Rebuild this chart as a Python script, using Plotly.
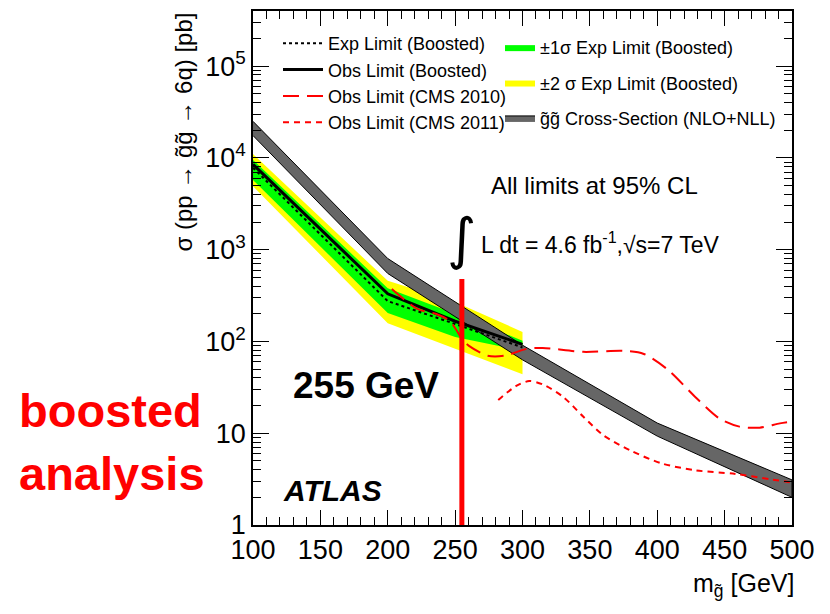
import plotly.graph_objects as go

# ---------------- data ----------------
mass_xs = [100, 200, 300, 400, 500]
xs_high = [2.5e4, 800, 91, 12.9, 3.1]
xs_low = [1.75e4, 550, 63, 9.3, 2.0]

mass_lim = [100, 200, 250, 300]
exp_lim = [7.8e3, 275, 155, 86]
obs_lim = [8.5e3, 330, 166, 93]
s1_high = [9.5e3, 380, 200, 102]
s1_low = [5.75e3, 204, 112, 79]
s2_high = [1.1e4, 457, 269, 127]
s2_low = [4.9e3, 158, 83, 44]

cms2010_m = [203, 222, 236, 246, 256, 260, 274, 287, 303, 315, 345, 375, 390, 408, 428, 446, 461, 476, 491, 500]
cms2010_xs = [372, 226, 199, 167, 102, 90, 70, 70, 83, 85, 77, 79, 73, 49, 25, 14.5, 11.8, 11.5, 12.8, 13.4]

cms2011_m = [282, 295, 305, 315, 330, 345, 360, 380, 403, 428, 458, 484, 500]
cms2011_xs = [23, 32.5, 37, 34, 25, 15.2, 9.5, 6.5, 4.7, 3.95, 3.6, 3.15, 2.9]

limit_mass = [255, 255]
limit_xs = [1, 478]

x_ticks = [100, 150, 200, 250, 300, 350, 400, 450, 500]
y_ticks = [1, 10, 100, 1e3, 1e4, 1e5]
y_ticktext = ["1", "10", "10<sup>2</sup>", "10<sup>3</sup>", "10<sup>4</sup>", "10<sup>5</sup>"]

FONT = "Liberation Sans, Arial, Helvetica, sans-serif"

# plot-area geometry in pixels
W, H = 830, 614
L, R, T, B = 253, 792, 9, 525


def px(x):
    return (x - L) / (R - L)


def py(y):
    return (B - y) / (B - T)


fig = go.Figure()

# +-2 sigma band
fig.add_trace(go.Scatter(
    x=mass_lim + mass_lim[::-1], y=s2_high + s2_low[::-1],
    fill="toself", fillcolor="#ffff00", mode="lines", line=dict(width=0, color="#ffff00"),
    name="±2 σ Exp Limit (Boosted)", legend="legend2", legendgroup="b", legendrank=2,
    hoverinfo="skip"))
# +-1 sigma band
fig.add_trace(go.Scatter(
    x=mass_lim + mass_lim[::-1], y=s1_high + s1_low[::-1],
    fill="toself", fillcolor="#00ff00", mode="lines", line=dict(width=0, color="#00ff00"),
    name="±1σ Exp Limit (Boosted)", legend="legend2", legendgroup="a", legendrank=1,
    hoverinfo="skip"))
# cross-section band
fig.add_trace(go.Scatter(
    x=mass_xs + mass_xs[::-1], y=xs_high + xs_low[::-1],
    fill="toself", fillcolor="#666666", mode="lines", line=dict(width=1, color="black"),
    name="g\u0303g\u0303 Cross-Section (NLO+NLL)", legend="legend2", legendgroup="c", legendrank=3,
    hoverinfo="skip"))
# expected limit
fig.add_trace(go.Scatter(
    x=mass_lim, y=exp_lim, mode="lines", line=dict(color="black", width=2, dash="3px,3px"),
    name="Exp Limit (Boosted)", legend="legend", legendrank=1))
# observed limit
fig.add_trace(go.Scatter(
    x=mass_lim, y=obs_lim, mode="lines", line=dict(color="black", width=3),
    name="Obs Limit (Boosted)", legend="legend", legendrank=2))
# CMS 2010
fig.add_trace(go.Scatter(
    x=cms2010_m, y=cms2010_xs, mode="lines", line=dict(color="red", width=2, dash="16px,8px", shape="spline", smoothing=0.8),
    name="Obs Limit (CMS 2010)", legend="legend", legendrank=3))
# CMS 2011
fig.add_trace(go.Scatter(
    x=cms2011_m, y=cms2011_xs, mode="lines", line=dict(color="red", width=2, dash="6px,5px", shape="spline", smoothing=0.8),
    name="Obs Limit (CMS 2011)", legend="legend", legendrank=4))
# 255 GeV marker line
fig.add_trace(go.Scatter(
    x=limit_mass, y=limit_xs, mode="lines", line=dict(color="red", width=5),
    showlegend=False, hoverinfo="skip"))

annos = [
    dict(text="All limits at 95% CL", x=px(489), y=py(184), xanchor="left", yanchor="middle",
         font=dict(size=24, color="black")),
    dict(text="∫", x=px(445), y=py(237), xanchor="left", yanchor="middle",
         font=dict(size=56, color="black", family="DejaVu Sans")),
    dict(text="L dt = 4.6 fb<sup>-1</sup>,√s=7 TeV", x=px(479), y=py(242), xanchor="left", yanchor="middle",
         font=dict(size=23, color="black")),
    dict(text="<b>255 GeV</b>", x=px(291), y=py(385), xanchor="left", yanchor="middle",
         font=dict(size=37, color="black")),
    dict(text="<b><i>ATLAS</i></b>", x=px(281), y=py(490), xanchor="left", yanchor="middle",
         font=dict(size=30, color="black")),
    dict(text="<b>boosted</b>", x=px(17), y=py(410), xanchor="left", yanchor="middle",
         font=dict(size=47, color="#ff0000")),
    dict(text="<b>analysis</b>", x=px(17), y=py(473), xanchor="left", yanchor="middle",
         font=dict(size=47, color="#ff0000")),
    dict(text="σ (pp → g\u0303g\u0303 → 6q) [pb]", x=px(183), y=py(9), xanchor="center", yanchor="top",
         textangle=-90, font=dict(size=24, color="black")),
    dict(text="m<sub>g\u0303</sub> [GeV]", x=px(796), y=py(585), xanchor="right", yanchor="middle",
         font=dict(size=25, color="black")),
]
for a in annos:
    a.update(xref="paper", yref="paper", showarrow=False)

fig.update_layout(
    width=W, height=H,
    margin=dict(l=L, r=W - R, t=T, b=H - B),
    paper_bgcolor="white", plot_bgcolor="white",
    font=dict(family=FONT, color="black"),
    annotations=annos,
    legend=dict(x=px(278), y=py(23), xanchor="left", yanchor="top",
                bgcolor="rgba(0,0,0,0)", font=dict(size=18), traceorder="normal",
                itemwidth=40, tracegroupgap=0),
    legend2=dict(x=px(500), y=py(27), xanchor="left", yanchor="top",
                 bgcolor="rgba(0,0,0,0)", font=dict(size=18), traceorder="grouped",
                 itemwidth=30, tracegroupgap=9),
    showlegend=True,
)

fig.update_xaxes(
    range=[100, 500], tickvals=x_ticks, ticks="inside", ticklen=15, tickwidth=1,
    tickcolor="black", showline=True, linecolor="black", linewidth=1.5, mirror="ticks",
    showgrid=False, zeroline=False, tickfont=dict(size=27),
    minor=dict(ticks="inside", ticklen=8, dtick=10, tickcolor="black", showgrid=False),
)
fig.update_yaxes(
    type="log", range=[0, 5.6], tickvals=y_ticks, ticktext=y_ticktext, ticks="inside",
    ticklen=16, tickwidth=1, tickcolor="black", showline=True, linecolor="black", linewidth=1.5,
    mirror="ticks", showgrid=False, zeroline=False, tickfont=dict(size=27),
    minor=dict(ticks="inside", ticklen=8, dtick="D1", tickcolor="black", showgrid=False),
)

fig.write_html("out.html")
